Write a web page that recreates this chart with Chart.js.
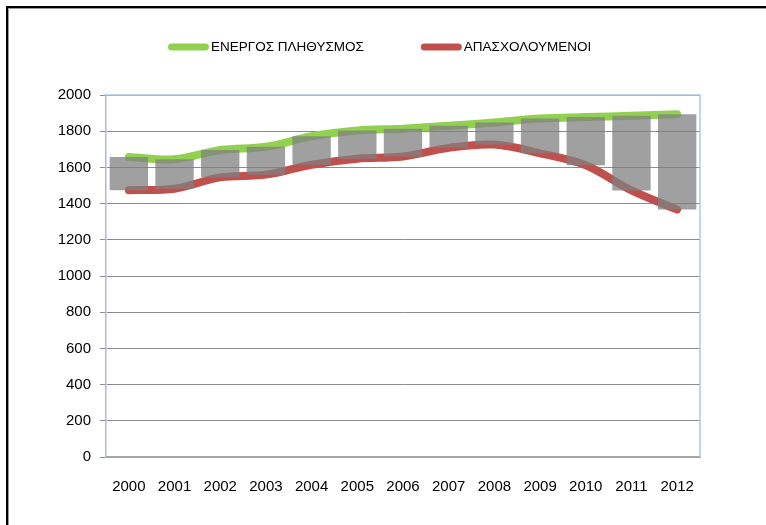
<!DOCTYPE html>
<html>
<head>
<meta charset="utf-8">
<script src="https://cdn.jsdelivr.net/npm/chart.js@4/dist/chart.umd.min.js"></script>
<style>
  html, body { margin: 0; padding: 0; background: #fff; }
  #wrap { position: relative; width: 766px; height: 525px; overflow: hidden; background: #fff; }
  #c { position: absolute; left: 0; top: 0; }
  .frame { position: absolute; left: 6px; top: 6px; width: 820px; height: 580px;
           border-top: 2px solid #000; border-left: 2px solid #000; pointer-events: none; }
  .frame-inner { position: absolute; left: 0; top: 0; right: 0; bottom: 0;
                 border-top: 1px solid #9a9a9a; border-left: 1px solid #9a9a9a; }
</style>
</head>
<body>
<div id="wrap">
  <canvas id="c" width="766" height="525"></canvas>
  <div class="frame"><div class="frame-inner"></div></div>
</div>
<script>
// Years on the horizontal axis
const years = ['2000', '2001', '2002', '2003', '2004', '2005', '2006',
               '2007', '2008', '2009', '2010', '2011', '2012'];

// Labour force and employed persons (thousands)
const activePopulation = [1657, 1645, 1696, 1714, 1772, 1804, 1814,
                          1830, 1848, 1870, 1878, 1885, 1893];
const employed = [1474, 1482, 1545, 1560, 1615, 1648, 1660,
                  1708, 1726, 1678, 1612, 1473, 1367];

const seriesNames = ['ΕΝΕΡΓΟΣ ΠΛΗΘΥΣΜΟΣ', 'ΑΠΑΣΧΟΛΟΥΜΕΝΟΙ'];

// Value axis ticks
const yMin = 0;
const yMax = 2000;
const yStep = 200;

// Gap bars span from employed up to the labour force
const gapBars = years.map((_, i) => [employed[i], activePopulation[i]]);

const FONT = "'Liberation Sans', 'DejaVu Sans', sans-serif";

// Light blue outline on the top and right of the plot area
const plotFrame = {
  id: 'plotFrame',
  beforeDatasetsDraw(chart) {
    const { ctx, chartArea: a } = chart;
    ctx.save();
    ctx.strokeStyle = '#b4c6e2';
    ctx.lineWidth = 1.5;
    ctx.beginPath();
    ctx.moveTo(a.left, a.top);
    ctx.lineTo(a.right, a.top);
    ctx.lineTo(a.right, a.bottom);
    ctx.stroke();
    ctx.restore();
  }
};

// Legend with thick rounded line swatches for the two line series
const lineLegend = {
  id: 'lineLegend',
  afterDraw(chart, args, opts) {
    const { ctx } = chart;
    ctx.save();
    ctx.font = opts.font;
    ctx.textBaseline = 'middle';
    ctx.textAlign = 'left';
    let x = opts.x;
    const r = opts.thickness / 2;
    chart.data.datasets.forEach(ds => {
      if (ds.type !== 'line') return;
      ctx.strokeStyle = ds.borderColor;
      ctx.lineWidth = opts.thickness;
      ctx.lineCap = 'round';
      ctx.beginPath();
      ctx.moveTo(x + r, opts.y);
      ctx.lineTo(x + opts.swatchWidth - r, opts.y);
      ctx.stroke();
      x += opts.swatchWidth + opts.textGap;
      ctx.fillStyle = opts.color;
      ctx.fillText(ds.label, x, opts.y);
      x += ctx.measureText(ds.label).width + opts.itemGap;
    });
    ctx.restore();
  }
};

new Chart(document.getElementById('c'), {
  data: {
    labels: years,
    datasets: [
      {
        type: 'bar',
        data: gapBars,
        backgroundColor: 'rgba(128,128,128,0.75)',
        borderWidth: 0,
        categoryPercentage: 1,
        barPercentage: 0.84,
        order: 0
      },
      {
        type: 'line',
        label: seriesNames[0],
        data: activePopulation,
        borderColor: '#92d050',
        borderWidth: 8,
        borderCapStyle: 'round',
        borderJoinStyle: 'round',
        tension: 0.35,
        pointRadius: 0,
        fill: false,
        order: 2
      },
      {
        type: 'line',
        label: seriesNames[1],
        data: employed,
        borderColor: '#c0504d',
        borderWidth: 8,
        borderCapStyle: 'round',
        borderJoinStyle: 'round',
        tension: 0.35,
        pointRadius: 0,
        fill: false,
        order: 1
      }
    ]
  },
  options: {
    responsive: false,
    animation: false,
    devicePixelRatio: 1,
    layout: { padding: { top: 95, right: 66, bottom: 0, left: 0 } },
    plugins: {
      legend: { display: false },
      tooltip: { enabled: false },
      lineLegend: {
        x: 168, y: 47, swatchWidth: 41, thickness: 7, textGap: 2, itemGap: 57,
        font: "13.5px " + FONT, color: '#000'
      }
    },
    scales: {
      x: {
        offset: true,
        grid: { display: true, drawOnChartArea: false, drawTicks: false },
        border: { display: true, color: '#a6a6a6', width: 2 },
        ticks: { color: '#000', font: { family: FONT, size: 15 }, padding: 21, maxRotation: 0, autoSkip: false },
        afterFit(scale) { scale.height = 68; }
      },
      y: {
        min: yMin,
        max: yMax,
        grid: { color: '#8c8c8c', lineWidth: 1, tickLength: 6, tickColor: '#8c8c8c' },
        border: { display: true, color: '#a9bbd8', width: 1.5 },
        ticks: {
          stepSize: yStep, color: '#000', font: { family: FONT, size: 15 }, padding: 9,
          callback: (v) => String(v)
        },
        afterFit(scale) { scale.width = 106; }
      }
    }
  },
  plugins: [plotFrame, lineLegend]
});
</script>
</body>
</html>
